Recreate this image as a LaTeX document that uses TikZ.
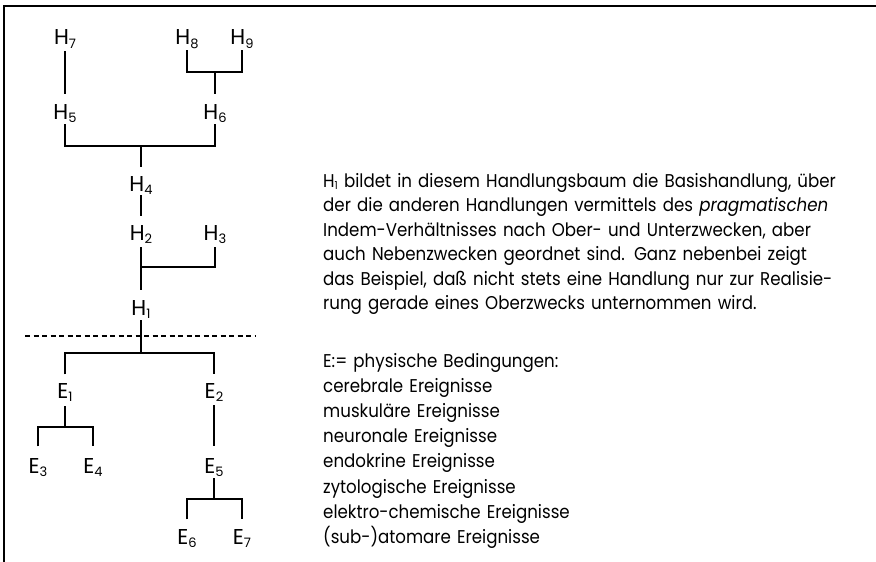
\documentclass[tikz,border=0pt]{standalone}
\usepackage{fontspec}
\setmainfont{Poppins}
\newfontfamily\prosefont{Poppins}[FakeStretch=0.9]
\usetikzlibrary{calc}

% lowered index digits for the tree labels and for the running text
\newcommand\tsub[1]{\raisebox{-3pt}{\fontsize{13}{13}\selectfont #1}}
\newcommand\psub[1]{\raisebox{-2.5pt}{\fontsize{11}{11}\selectfont #1}}
\newcommand\fullline[1]{\makebox[\linewidth][s]{#1}}

\begin{document}
\begin{tikzpicture}[x=1pt, y=-1pt,
  lbl/.style={inner sep=0pt, anchor=base, font=\fontsize{21.5}{22}\selectfont,
              text height=15.5pt, text depth=0pt},
  tie/.style={line width=1.8pt},
  cut/.style={line width=1.4pt, dash pattern=on 5pt off 3.5pt},
  frame/.style={line width=2.5pt},
  prose/.style={inner sep=0pt, anchor=base west, text width=532pt, align=left,
                font=\prosefont\fontsize{18.5}{24.5}\selectfont},
  listing/.style={inner sep=0pt, anchor=base west, text width=400pt, align=left,
                  font=\prosefont\fontsize{18.5}{25.2}\selectfont}]

\useasboundingbox (0,0) rectangle (876,562);
\fill[white] (0,0) rectangle (876,562);

% open frame: left and top rule
\draw[frame] (4,562) -- (4,6) -- (876,6);

% action tree H
\node[lbl] (h7) at (65,45)  {H\tsub{7}};
\node[lbl] (h8) at (187,45) {H\tsub{8}};
\node[lbl] (h9) at (242,45) {H\tsub{9}};
\node[lbl] (h5) at (65,119) {H\tsub{5}};
\node[lbl] (h6) at (215,119) {H\tsub{6}};
\node[lbl] (h4) at (141,191) {H\tsub{4}};
\node[lbl] (h2) at (141,240) {H\tsub{2}};
\node[lbl] (h3) at (215,240) {H\tsub{3}};
\node[lbl] (h1) at (141,315) {H\tsub{1}};

% physical conditions E
\node[lbl] (e1) at (65,398)  {E\tsub{1}};
\node[lbl] (e2) at (214,398) {E\tsub{2}};
\node[lbl] (e3) at (38,473)  {E\tsub{3}};
\node[lbl] (e4) at (93,473)  {E\tsub{4}};
\node[lbl] (e5) at (214,473) {E\tsub{5}};
\node[lbl] (e6) at (187,544) {E\tsub{6}};
\node[lbl] (e7) at (242,544) {E\tsub{7}};

% junction points of the brackets
\coordinate (j6)  at (215,72);
\coordinate (j4)  at (141,146);
\coordinate (j2)  at (141,267);
\coordinate (j1)  at (141,353);
\coordinate (je1) at (65,427);
\coordinate (je5) at (214,499);
\coordinate (cutl) at (25,336);
\coordinate (cutr) at (255,336);

% upper tree
\draw[tie] ([yshift=-6pt]h7.south) -- ([yshift=9pt]h5.north);
\draw[tie] ([yshift=-5pt]h8.south) |- (j6) -| ([yshift=-5pt]h9.south);
\draw[tie] (j6) -- ([yshift=9pt]h6.north);
\draw[tie] ([yshift=-5pt]h5.south) |- (j4) -| ([yshift=-5pt]h6.south);
\draw[tie] (j4) -- ([yshift=8pt]h4.north);
\draw[tie] ([yshift=-4pt]h4.south) -- ([yshift=8pt]h2.north);
\draw[tie] ([yshift=-7pt]h2.south) -- ([yshift=9pt]h1.north);
\draw[tie] (j2) -| ([yshift=-7pt]h3.south);

% boundary between actions and physical conditions
\draw[cut] (cutl) -- (cutr);

% lower tree
\draw[tie] ([yshift=-5pt]h1.south) -- (j1);
\draw[tie] ([yshift=8pt]e1.north) |- (j1) -| ([yshift=8pt]e2.north);
\draw[tie] ([yshift=-8pt]e1.south) -- (je1);
\draw[tie] ([yshift=11pt]e3.north) |- (je1) -| ([yshift=11pt]e4.north);
\draw[tie] ([yshift=-7pt]e2.south) -- ([yshift=11pt]e5.north);
\draw[tie] ([yshift=-5pt]e5.south) -- (je5);
\draw[tie] ([yshift=9pt]e6.north) |- (je5) -| ([yshift=9pt]e7.north);

% explanation
\node[prose] (note) at (323,187) {%
\fullline{H\psub{1} bildet in diesem Handlungsbaum die Basishandlung, über}\\
\fullline{der die anderen Handlungen vermittels des \textit{pragmatischen}}\\
\fullline{Indem-Verhältnisses nach Ober- und Unterzwecken, aber}\\
\fullline{auch Nebenzwecken geordnet sind. Ganz nebenbei zeigt}\\
\fullline{das Beispiel, daß nicht stets eine Handlung nur zur Realisie-}\\
rung gerade eines Oberzwecks unternommen wird.};

\node[listing] (conds) at (323,367) {%
E:= physische Bedingungen:\\
cerebrale Ereignisse\\
muskuläre Ereignisse\\
neuronale Ereignisse\\
endokrine Ereignisse\\
zytologische Ereignisse\\
elektro-chemische Ereignisse\\
(sub-)atomare Ereignisse};
\end{tikzpicture}
\end{document}
